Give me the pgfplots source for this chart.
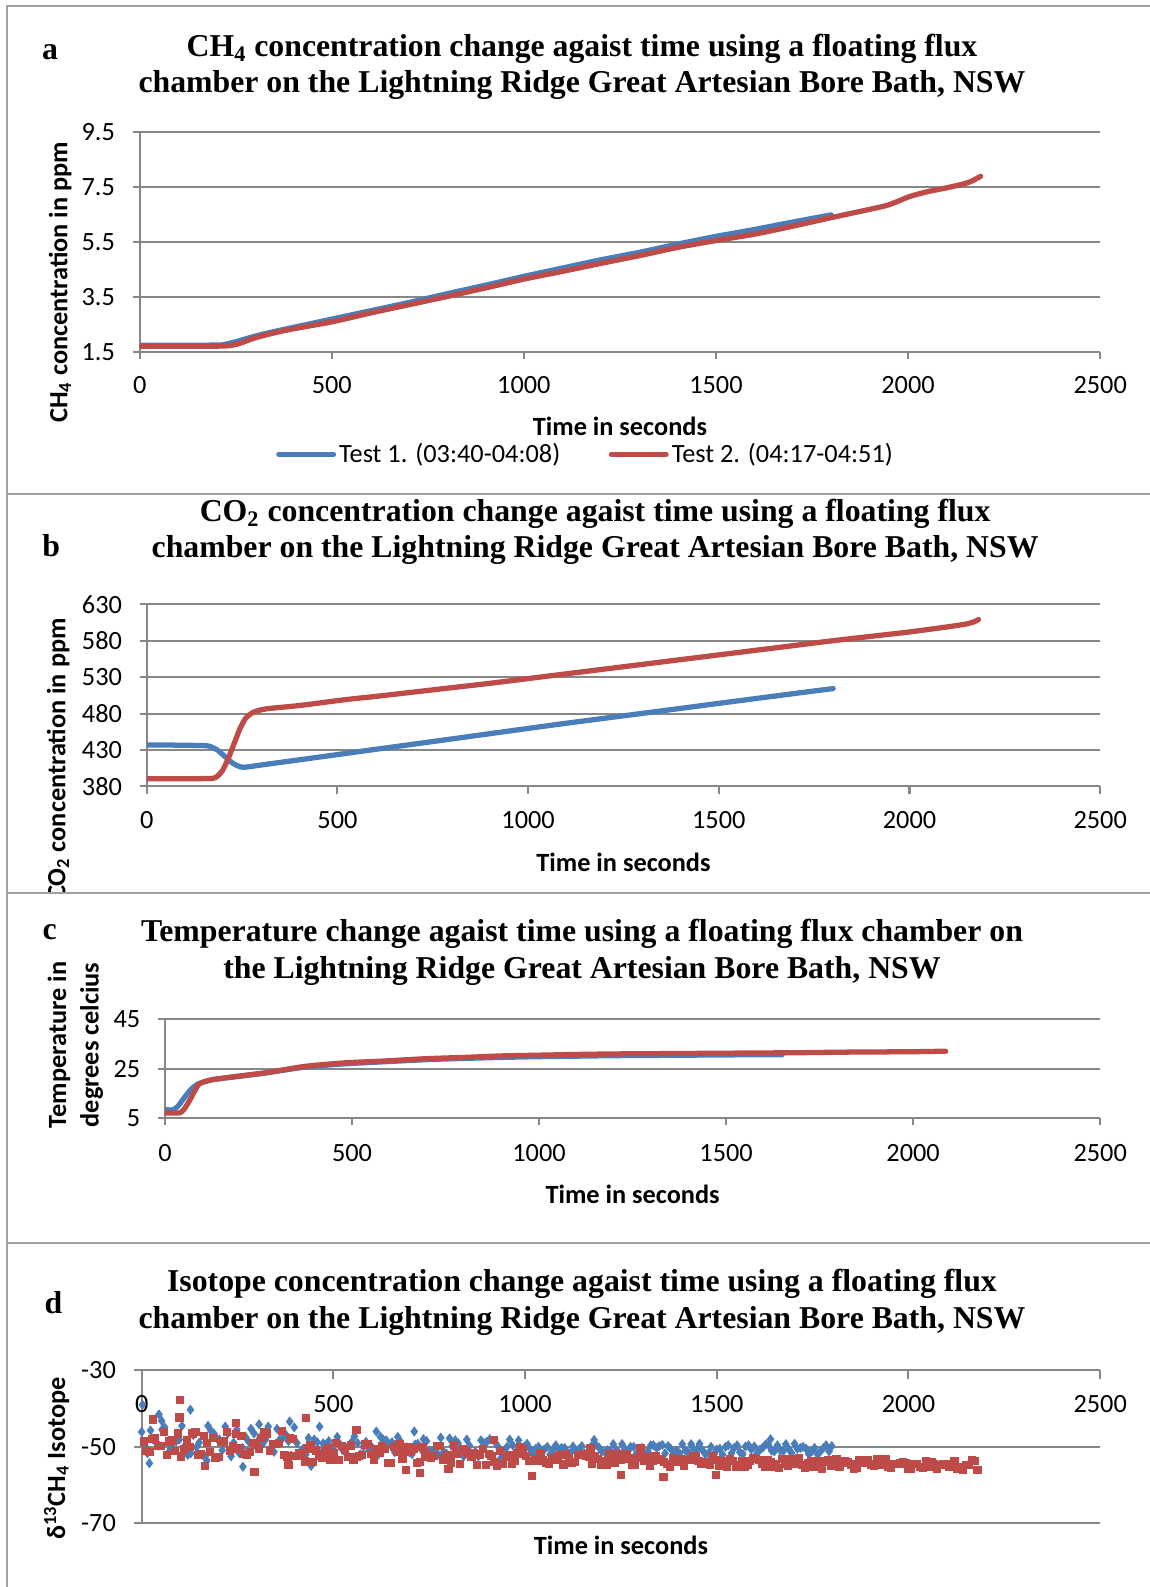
\documentclass[border=0pt]{standalone}
\usepackage{pgfplots}
\pgfplotsset{compat=1.18}
\usepackage{fontspec}
\setmainfont{Carlito}
\newfontfamily\tnr{Liberation Serif}
\definecolor{tblue}{HTML}{4A7EBB}
\definecolor{tred}{HTML}{BE4B48}
\definecolor{ggray}{HTML}{878787}
\definecolor{fgray}{HTML}{A0A0A0}
\newcommand\tkf{\fontsize{13}{15.5}\selectfont}
\newcommand\ttl{\tnr\bfseries\fontsize{15.7}{18}\selectfont}
\pgfplotsset{
  panel/.style={
    scale only axis, anchor=south west,
    axis x line=bottom, axis y line=left,
    axis line style={-, ggray, line width=1pt},
    tick align=outside, major tick length=3.5pt,
    tick style={ggray, line width=1pt},
    ymajorgrids, major grid style={ggray, line width=1pt},
    tick label style={font=\tkf, text=black},
    /pgf/number format/assume math mode=true,
    /pgf/number format/set thousands separator={},
    yticklabel style={xshift=-5.2pt},
    xmin=0, xmax=2500, xtick={0,500,1000,1500,2000,2500},
  },
  curve/.style={line width=2.6pt, line join=round, line cap=round, smooth, tension=0.4},
}
\begin{document}
\begin{tikzpicture}
\path[use as bounding box] (0pt,0pt) rectangle (568pt,-784pt);
\begin{scope}[x=0.5pt,y=-0.5pt]
\draw[fgray, line width=1pt] (7,1568) -- (7,6) -- (1136,6);
\draw[fgray, line width=1pt] (7,488) -- (1136,488) (7,882) -- (1136,882) (7,1228) -- (1136,1228);
% panel letters
\node[font=\ttl, anchor=base] at (49.5,58.6) {a};
\node[font=\ttl, anchor=base] at (50.7,549.4) {b};
\node[font=\ttl, anchor=base] at (49,928) {c};
\node[font=\ttl, anchor=base] at (52.8,1297.7) {d};
% titles
\node[font=\ttl, anchor=base] at (575,56) {CH\textsubscript{4} concentration change agaist time using a floating flux};
\node[font=\ttl, anchor=base] at (575,91) {chamber on the Lightning Ridge Great Artesian Bore Bath, NSW};
\node[font=\ttl, anchor=base] at (588,515.5) {CO\textsubscript{2} concentration change agaist time using a floating flux};
\node[font=\ttl, anchor=base] at (588,551) {chamber on the Lightning Ridge Great Artesian Bore Bath, NSW};
\node[font=\ttl, anchor=base] at (575,930.5) {Temperature change agaist time using a floating flux chamber on};
\node[font=\ttl, anchor=base] at (575,966.7) {the Lightning Ridge Great Artesian Bore Bath, NSW};
\node[font=\ttl, anchor=base] at (575,1276.3) {Isotope concentration change agaist time using a floating flux};
\node[font=\ttl, anchor=base] at (575,1312.5) {chamber on the Lightning Ridge Great Artesian Bore Bath, NSW};
% axis titles
\node[font=\tkf\bfseries] at (612.5,421) {Time in seconds};
\node[font=\tkf\bfseries] at (616,852) {Time in seconds};
\node[font=\tkf\bfseries] at (625,1180) {Time in seconds};
\node[font=\tkf\bfseries] at (613.5,1527) {Time in seconds};
\node[font=\tkf\bfseries, rotate=90] at (59.5,279) {CH\textsubscript{4} concentration in ppm};
\begin{scope}
\clip (8,489) rectangle (1136,881);
\node[font=\tkf\bfseries, rotate=90] at (57.5,750) {CO\textsubscript{2} concentration in ppm};
\end{scope}
\node[font=\bfseries\fontsize{13}{16}\selectfont, rotate=90, align=center] at (74.5,1032.5) {Temperature in\\degrees celcius};
\node[font=\tkf\bfseries, rotate=90] at (56,1441) {δ\textsuperscript{13}CH\textsubscript{4} Isotope};
\end{scope}

% ---------------- panel a
\begin{axis}[panel, at={(69pt,-174pt)}, width=474.5pt, height=109pt,
  ymin=1.5, ymax=9.5, ytick={1.5,3.5,5.5,7.5,9.5},
  yticklabel style={/pgf/number format/fixed, /pgf/number format/fixed zerofill, /pgf/number format/precision=1},
  xticklabel style={yshift=-5.1pt},
  legend style={at={(0.4647,-0.463)}, anchor=center, draw=none, fill=none, font=\tkf,
    legend columns=2, nodes={inner xsep=1.5pt, inner ysep=1pt},
    /tikz/every even column/.append style={column sep=22.5pt}},
  legend image code/.code={\draw[#1, smooth=false] (0pt,0pt) -- (27pt,0pt);},
]
\addplot[tblue, curve] coordinates {(0,1.75) (100,1.75) (200,1.76) (220,1.78) (250,1.88) (300,2.08) (350,2.25) (400,2.4) (500,2.7) (600,3.0) (700,3.3) (800,3.62) (900,3.93) (1000,4.25) (1100,4.55) (1200,4.85) (1300,5.12) (1400,5.42) (1500,5.7) (1600,5.95) (1700,6.22) (1800,6.48)};
\addlegendentry{Test 1. (03:40-04:08)}
\addplot[tred, curve] coordinates {(0,1.72) (100,1.72) (200,1.72) (235,1.74) (260,1.82) (300,2.02) (350,2.2) (400,2.35) (500,2.6) (600,2.92) (700,3.22) (800,3.52) (900,3.83) (1000,4.15) (1100,4.43) (1200,4.72) (1300,5.0) (1400,5.3) (1500,5.55) (1600,5.78) (1700,6.07) (1800,6.38) (1900,6.68) (1944,6.82) (1975,6.98) (2005,7.15) (2050,7.32) (2100,7.46) (2144,7.6) (2165,7.7) (2189,7.88)};
\addlegendentry{Test 2. (04:17-04:51)}
\end{axis}

% ---------------- panel b
\begin{axis}[panel, at={(72.5pt,-388.5pt)}, width=471pt, height=90pt,
  ymin=380, ymax=630, ytick={380,430,480,530,580,630},
  xticklabel style={yshift=-5.1pt},
]
\addplot[tblue, curve] coordinates {(0,437) (50,436.8) (100,436.5) (150,436) (165,435) (185,430) (205,421) (225,412) (245,407) (260,406.5) (300,409.4) (400,416.5) (500,423.7) (600,430.9) (700,438) (800,445.2) (900,452.4) (1000,459.6) (1100,466.7) (1200,473.5) (1300,480.3) (1400,487.1) (1500,494) (1600,500.8) (1700,507.6) (1800,514.3)};
\addplot[tred, curve] coordinates {(0,390.6) (100,390.6) (170,391) (185,394) (200,403) (215,420) (230,440) (245,460) (260,474) (280,482) (314,486.5) (400,491) (524,499.3) (600,503.5) (700,509.5) (800,515.5) (900,521.5) (1000,528) (1100,534.5) (1200,541) (1300,547.5) (1400,554) (1500,560.5) (1600,567) (1700,573.5) (1800,580) (1900,586) (2000,592) (2100,599) (2150,603) (2170,606) (2181,609)};
\end{axis}

% ---------------- panel c
\begin{axis}[panel, at={(81.5pt,-552.5pt)}, width=462pt, height=49pt,
  ymin=5, ymax=45, ytick={5,25,45},
  xticklabel style={yshift=-5.6pt},
]
\addplot[tblue, curve] coordinates {(0,8.5) (22,8.5) (35,10) (50,13) (69,16.6) (90,19) (130,20.7) (200,22) (273,23.4) (375,25.7) (480,27) (580,27.8) (700,28.7) (800,29.2) (900,29.6) (1000,29.9) (1100,30.1) (1200,30.3) (1300,30.4) (1400,30.5) (1500,30.6) (1600,30.7) (1650,30.7)};
\addplot[tred, curve] coordinates {(0,7.2) (38,7.2) (50,8.5) (65,12) (89,18.5) (110,20) (130,20.7) (200,22.1) (273,23.5) (375,26) (480,27.4) (580,28.1) (700,29.1) (800,29.6) (900,30.2) (1000,30.5) (1100,30.8) (1200,31.0) (1300,31.1) (1400,31.2) (1500,31.3) (1600,31.4) (1700,31.5) (1800,31.7) (1900,31.8) (2000,31.9) (2087,32.1)};
\end{axis}

% ---------------- panel d
\begin{axis}[panel, at={(70pt,-752.5pt)}, width=473.5pt, height=75.5pt,
  axis x line=top, axis y line=left,
  axis line style={-, ggray, line width=1pt},
  x axis line style={-}, y axis line style={-},
  xtick align=inside, ytick align=outside, major tick length=4pt,
  xticklabel style={anchor=north, yshift=-8.6pt},
  ymin=-70, ymax=-30, ytick={-70,-50,-30}, clip=false,
]
\addplot[only marks, mark=diamond*, mark size=2.2pt, color=tblue, mark options={draw=tblue, fill=tblue}] coordinates {
(0,-46.1) (15,-51.7) (30,-48.1) (45,-49.7) (60,-44.9) (75,-50.5) (90,-48.5) (105,-44.5) (120,-52.1) (135,-46.9) (150,-48.9) (165,-52.5) (180,-45.7) (195,-47.7) (210,-50.9) (225,-46.5) (240,-48.9) (255,-51.7) (270,-47.3) (285,-45.3) (300,-50.1) (315,-49.3) (330,-44.7) (345,-51.3) (360,-48.1) (375,-46.7) (390,-52.3)
(405,-49.0) (420,-50.6) (435,-47.7) (450,-48.1) (465,-51.6) (480,-49.4) (495,-50.4) (510,-47.4) (525,-50.9) (540,-49.7) (555,-47.2) (570,-52.0) (585,-48.7) (600,-50.0) (615,-52.3) (630,-48.1) (645,-49.3) (660,-51.4) (675,-48.6) (690,-50.1) (705,-51.9) (720,-49.2) (735,-48.0) (750,-51.0) (765,-50.5) (780,-47.6) (795,-51.8) (810,-49.8) (825,-49.0) (840,-52.5) (855,-49.7) (870,-51.3) (885,-48.3) (900,-48.7) (915,-52.2) (930,-50.0) (945,-51.0) (960,-48.1) (975,-51.6) (990,-50.3)
(1005,-49.2) (1020,-51.9) (1035,-50.0) (1050,-50.7) (1065,-52.0) (1080,-49.6) (1095,-50.3) (1110,-51.4) (1125,-49.9) (1140,-50.7) (1155,-51.7) (1170,-50.2) (1185,-49.5) (1200,-51.2) (1215,-50.9) (1230,-49.3) (1245,-51.6) (1260,-50.5) (1275,-50.0) (1290,-51.9) (1305,-50.3) (1320,-51.2) (1335,-49.6) (1350,-49.8) (1365,-51.7) (1380,-50.5) (1395,-51.0) (1410,-49.3) (1425,-51.3) (1440,-50.6) (1455,-49.2) (1470,-51.9) (1485,-50.0) (1500,-50.7) (1515,-52.0) (1530,-49.6) (1545,-50.3) (1560,-51.4) (1575,-49.9) (1590,-50.7) (1605,-51.7) (1620,-50.2) (1635,-49.5) (1650,-51.2) (1665,-50.9) (1680,-49.3) (1695,-51.6) (1710,-50.5) (1725,-50.0) (1740,-51.9) (1755,-50.3) (1770,-51.2) (1785,-49.6) (1800,-49.8)
(8,-49.7) (38,-48.9) (68,-51.7) (98,-48.1) (128,-51.7) (158,-52.1) (188,-46.5) (218,-44.7) (248,-45.5) (278,-48.5) (308,-47.7) (338,-50.1) (368,-47.7) (398,-44.9) (428,-52.0) (458,-48.8) (488,-48.5) (518,-49.4) (548,-48.7) (578,-50.0) (608,-51.6) (638,-48.3) (668,-47.4) (698,-51.4) (728,-50.5) (758,-51.1) (788,-51.3) (818,-48.3) (848,-48.1) (878,-52.5) (908,-48.0) (938,-52.8) (968,-49.6) (998,-50.0) (1028,-50.5) (1058,-50.0) (1088,-50.7) (1118,-51.6) (1148,-49.8) (1178,-49.2) (1208,-51.4) (1238,-50.9) (1268,-51.2) (1298,-51.3) (1328,-49.6) (1358,-49.5) (1388,-51.9) (1418,-51.0) (1448,-50.7) (1478,-51.7) (1508,-50.5) (1538,-51.7) (1568,-51.9) (1598,-49.9) (1628,-49.3) (1658,-49.6) (1688,-50.6) (1718,-50.3) (1748,-51.2) (1778,-50.3)
(23,-45.7) (53,-45.5) (83,-48.9) (113,-49.7) (143,-50.1) (173,-44.5) (203,-48.1) (233,-52.5) (263,-50.3) (293,-46.5) (323,-48.1) (353,-45.3) (383,-48.5) (413,-51.3) (443,-49.8) (473,-49.1) (503,-51.1) (533,-51.7) (563,-49.0) (593,-51.0) (623,-47.4) (653,-48.8) (683,-52.3) (713,-49.4) (743,-48.5) (773,-52.0) (803,-47.8) (833,-50.6) (863,-52.4) (893,-49.0) (923,-49.0) (953,-50.0) (983,-48.3) (1013,-50.6) (1043,-51.6) (1073,-50.7) (1103,-50.3) (1133,-51.4) (1163,-51.7) (1193,-50.2) (1223,-51.3) (1253,-49.3) (1283,-50.0) (1313,-51.9) (1343,-50.3) (1373,-49.8) (1403,-51.7) (1433,-49.3) (1463,-50.9) (1493,-51.9) (1523,-50.0) (1553,-49.6) (1583,-49.6) (1613,-50.7) (1643,-51.0) (1673,-51.2) (1703,-49.2) (1733,-50.5) (1763,-52.0) (1793,-51.2)
(2,-39.0) (127,-40.3) (52,-43.2) (20,-54.3) (264,-55.2) (170,-53.6) (442,-55.0) (386,-43.4) (306,-44.1) (464,-44.7) (612,-46.0) (711,-46.0) (1640,-48.0) (1180,-48.2) (45,-41.5)};
\addplot[only marks, mark=square*, mark size=1.8pt, color=tred, mark options={draw=tred, fill=tred}] coordinates {
(5,-48.6) (20,-51.4) (35,-47.6) (50,-49.7) (65,-52.1) (80,-48.3) (95,-46.5) (110,-50.7) (125,-50.0) (140,-46.0) (155,-51.8) (170,-49.0) (185,-47.7) (200,-52.6) (215,-48.6) (230,-50.9) (245,-46.7) (260,-47.2) (275,-52.1) (290,-49.0) (305,-50.4) (320,-46.2) (335,-51.1) (350,-49.3) (365,-45.8) (380,-52.5) (395,-47.9)
(410,-51.6) (425,-53.8) (440,-49.6) (455,-50.9) (470,-52.9) (485,-50.2) (500,-51.7) (515,-53.5) (530,-50.8) (545,-49.6) (560,-52.6) (575,-52.1) (590,-49.3) (605,-53.5) (620,-51.5) (635,-50.6) (650,-54.2) (665,-51.3) (680,-53.0) (695,-50.0) (710,-50.4) (725,-54.0) (740,-51.7) (755,-52.8) (770,-49.8) (785,-53.3) (800,-52.1) (815,-49.6) (830,-54.4) (845,-51.2) (860,-52.5) (875,-54.8) (890,-50.5) (905,-51.8) (920,-53.9) (935,-51.1) (950,-52.7) (965,-54.4) (980,-51.7) (995,-50.5)
(1010,-53.6) (1025,-53.3) (1040,-51.6) (1055,-54.1) (1070,-53.0) (1085,-52.5) (1100,-54.6) (1115,-52.9) (1130,-53.9) (1145,-52.1) (1160,-52.4) (1175,-54.5) (1190,-53.2) (1205,-53.8) (1220,-52.0) (1235,-54.1) (1250,-53.4) (1265,-51.9) (1280,-54.8) (1295,-52.9) (1310,-53.7) (1325,-55.0) (1340,-52.5) (1355,-53.3) (1370,-54.5) (1385,-52.9) (1400,-53.8) (1415,-54.9) (1430,-53.3) (1445,-52.5) (1460,-54.4) (1475,-54.1) (1490,-52.4) (1505,-54.9) (1520,-53.7) (1535,-53.2) (1550,-55.3) (1565,-53.7) (1580,-54.6) (1595,-52.9)
(1610,-53.4) (1625,-55.3) (1640,-54.1) (1655,-54.6) (1670,-53.1) (1685,-54.9) (1700,-54.3) (1715,-53.0) (1730,-55.5) (1745,-53.8) (1760,-54.5) (1775,-55.7) (1790,-53.5) (1805,-54.1) (1820,-55.2) (1835,-53.8) (1850,-54.6) (1865,-55.5) (1880,-54.1) (1895,-53.5) (1910,-55.0) (1925,-54.8) (1940,-53.3) (1955,-55.5) (1970,-54.4) (1985,-54.0) (2000,-55.8) (2015,-54.4) (2030,-55.2) (2045,-53.7) (2060,-53.9) (2075,-55.7) (2090,-54.6) (2105,-55.1) (2120,-53.6) (2135,-55.4) (2150,-54.8) (2165,-53.5) (2180,-56.0)
(12,-51.1) (42,-49.7) (72,-48.6) (102,-52.5) (132,-46.5) (162,-47.2) (192,-52.8) (222,-46.0) (252,-50.4) (282,-51.4) (312,-47.7) (342,-49.3) (372,-52.1) (402,-52.4) (432,-50.4) (462,-52.4) (492,-53.5) (522,-49.8) (552,-53.4) (582,-49.4) (612,-50.5) (642,-54.2) (672,-49.3) (702,-51.2) (732,-50.1) (762,-52.3) (792,-52.6) (822,-51.9) (852,-51.7) (882,-52.0) (912,-52.3) (942,-54.4) (972,-53.6) (1002,-52.4) (1032,-53.6) (1062,-54.3) (1092,-52.1) (1122,-54.2) (1152,-51.9) (1182,-52.5) (1212,-54.8) (1242,-51.9) (1272,-53.0) (1302,-52.4) (1332,-53.7) (1362,-53.9) (1392,-53.5) (1422,-53.4) (1452,-53.6) (1482,-54.6) (1512,-54.0) (1542,-53.6) (1572,-55.3) (1602,-53.2) (1632,-53.4) (1662,-55.6) (1692,-53.1) (1722,-54.7) (1752,-55.1) (1782,-53.8) (1812,-53.1) (1842,-54.1) (1872,-53.5) (1902,-54.6) (1932,-54.8) (1962,-54.4) (1992,-54.3) (2022,-54.5) (2052,-55.3) (2082,-54.8) (2112,-54.5) (2142,-55.9) (2172,-53.7)
(27,-47.9) (57,-46.0) (87,-51.1) (117,-48.3) (147,-52.1) (177,-51.4) (207,-48.6) (237,-49.7) (267,-51.8) (297,-49.3) (327,-46.5) (357,-49.0) (387,-47.6) (417,-52.4) (447,-53.9) (477,-51.2) (507,-49.0) (537,-52.6) (567,-52.4) (597,-51.9) (627,-49.9) (657,-50.1) (687,-50.8) (717,-54.2) (747,-52.5) (777,-49.8) (807,-54.1) (837,-50.7) (867,-51.7) (897,-54.7) (927,-54.9) (957,-52.2) (987,-50.0) (1017,-53.6) (1047,-53.5) (1077,-53.3) (1107,-52.0) (1137,-52.2) (1167,-52.6) (1197,-54.7) (1227,-53.7) (1257,-52.1) (1287,-54.7) (1317,-52.6) (1347,-53.3) (1377,-55.1) (1407,-53.1) (1437,-52.3) (1467,-54.5) (1497,-53.4) (1527,-55.1) (1557,-54.8) (1587,-53.7) (1617,-54.3) (1647,-55.2) (1677,-54.3) (1707,-53.3) (1737,-54.2) (1767,-53.7) (1797,-55.0) (1827,-54.2) (1857,-55.7) (1887,-54.0) (1917,-53.3) (1947,-55.2) (1977,-54.2) (2007,-55.7) (2037,-55.4) (2067,-54.4) (2097,-54.8) (2127,-55.7) (2157,-54.8)
(100,-37.7) (98,-42.3) (29,-42.8) (429,-42.5) (246,-43.8) (164,-55.0) (294,-56.5) (383,-54.7) (689,-56.1) (726,-56.8) (1018,-57.6) (1361,-57.8) (1249,-57.4) (1497,-57.3) (918,-48.2) (1301,-50.4) (1170,-50.3) (800,-55.8) (560,-45.5)};
\end{axis}
\end{tikzpicture}
\end{document}
